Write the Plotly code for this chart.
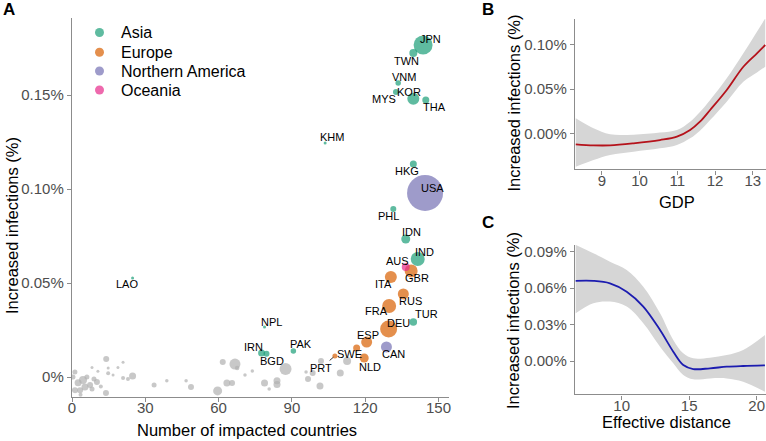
import plotly.graph_objects as go

# ---------------- Panel A data ----------------
asia_codes = ["JPN", "TWN", "VNM", "MYS", "KOR", "THA", "KHM", "HKG", "PHL", "IDN",
              "IND", "TUR", "IRN", "BGD", "PAK", "NPL", "LAO"]
asia_x = [143.7, 139.7, 133.5, 132.6, 139.7, 144.8, 103.6, 139.7, 131.5, 136.6,
          141.5, 139.7, 77.6, 79.6, 90.6, 78.8, 24.8]
asia_y = [0.1766, 0.1724, 0.1564, 0.1516, 0.1480, 0.1474, 0.1245, 0.1133, 0.0894, 0.0734,
          0.0628, 0.0293, 0.0127, 0.0123, 0.0138, 0.0266, 0.0527]
asia_pop = [19, 8, 5.5, 6, 12, 7, 3, 7, 6, 9, 14, 7.5, 7, 6, 5.5, 3, 3]

europe_codes = ["GBR", "ITA", "RUS", "FRA", "DEU", "ESP", "SWE", "PRT", "NLD"]
europe_x = [138.8, 130.5, 135.6, 129.8, 129.6, 120.6, 116.5, 107.6, 119.6]
europe_y = [0.0564, 0.0532, 0.0442, 0.0378, 0.0255, 0.0186, 0.0154, 0.0112, 0.0101]
europe_pop = [13, 12, 11, 14, 17, 11, 7, 5, 9]

namerica_codes = ["USA", "CAN"]
namerica_x = [144.5, 128.7]
namerica_y = [0.0979, 0.0160]
namerica_pop = [36, 11]

oceania_codes = ["AUS"]
oceania_x = [136.6]
oceania_y = [0.0585]
oceania_pop = [8]

other_x = [14.0, 20.9, 14.8, 18.8, 8.2, 10.6, 14.8, 16.8, 20.9, 22.9, 24.8, 33.6, 38.8, 46.7,
           48.7, 1.2, 0.4, 2.5, 4.5, 5.3, 7.4, 10.2, 1.2, 3.3, 8.2, 13.9, 6.1, 9.0, 11.8, 3.5,
           61.7, 66.7, 67.6, 59.6, 63.4, 65.5, 70.8, 73.8, 78.8, 80.7, 83.9, 83.9, 87.4, 95.8,
           96.6, 98.5, 101.5, 101.9, 109.8, 112.6]
other_y = [0.0096, 0.0078, 0.0048, 0.0050, 0.0050, 0.0030, 0.0020, 0.0010, -0.0005, -0.0010,
           0.0005, -0.0043, -0.0020, -0.0020, -0.0053, 0.0027, 0.0000, -0.0030, -0.0016, -0.0053,
           -0.0043, -0.0027, -0.0070, -0.0070, -0.0064, -0.0085, 0.0000, -0.0010, -0.0050, -0.0095,
           0.0080, 0.0069, 0.0048, -0.0074, -0.0032, -0.0032, 0.0010, 0.0032, -0.0032, -0.0064,
           -0.0020, -0.0040, 0.0043, 0.0027, -0.0010, 0.0021, -0.0048, 0.0085, 0.0021, 0.0085]
other_pop = [6, 3, 3, 3, 3, 3, 4, 3, 4, 4, 7, 5, 3.5, 3.5, 6, 5, 5, 7, 8, 7,
             6, 6, 6, 6, 5, 6, 5, 5, 4, 4, 6, 11, 4.5, 9, 7, 6, 3.5, 3.5, 7, 3.5,
             7, 7, 12, 3.5, 6, 6, 7, 6, 7, 8]

a_xticks = [0, 30, 60, 90, 120, 150]
a_yticks = [0, 0.05, 0.10, 0.15]
a_yticktext = ["0%", "0.05%", "0.10%", "0.15%"]

# ---------------- Panel B data (GDP smooth) ----------------
gdp_x = [8.31, 8.78, 9.22, 9.84, 10.54, 10.99, 11.34, 11.60, 11.87, 12.31, 12.75, 13.11, 13.33]
gdp_fit = [-0.0124, -0.0136, -0.0136, -0.0113, -0.0076, -0.0038, 0.0037, 0.0131, 0.0264,
           0.0490, 0.0753, 0.0905, 0.0999]
gdp_hi = [0.0170, 0.0057, -0.0011, -0.0015, 0.0008, 0.0037, 0.0131, 0.0240, 0.0377,
          0.0622, 0.0905, 0.1150, 0.1300]
gdp_lo = [-0.0378, -0.0302, -0.0245, -0.0208, -0.0170, -0.0132, -0.0057, 0.0030, 0.0150,
          0.0358, 0.0584, 0.0689, 0.0753]
b_xticks = [9, 10, 11, 12, 13]
b_yticks = [0, 0.05, 0.10]
b_yticktext = ["0.00%", "0.05%", "0.10%"]

# ---------------- Panel C data (effective distance smooth) ----------------
dist_x = [6.59, 7.90, 9.13, 10.37, 11.60, 12.84, 13.82, 14.56, 15.30, 16.54, 17.78, 19.00, 20.61]
dist_fit = [0.0660, 0.0660, 0.0640, 0.0571, 0.0448, 0.0255, 0.0077, -0.0033, -0.0066,
            -0.0060, -0.0047, -0.0041, -0.0036]
dist_hi = [0.0956, 0.0887, 0.0818, 0.0750, 0.0612, 0.0393, 0.0173, 0.0063, 0.0022,
           0.0027, 0.0049, 0.0091, 0.0214]
dist_lo = [0.0393, 0.0476, 0.0489, 0.0448, 0.0311, 0.0118, -0.0019, -0.0115, -0.0151,
           -0.0143, -0.0143, -0.0170, -0.0253]
c_xticks = [10, 15, 20]
c_yticks = [0, 0.03, 0.06, 0.09]
c_yticktext = ["0.00%", "0.03%", "0.06%", "0.09%"]

# ---------------- Styling ----------------
W, H = 766, 441
FONT = "Liberation Sans, Arial, sans-serif"
DARK2 = {"Asia": "#1B9E77", "Europe": "#D95F02", "Northern America": "#7570B3", "Oceania": "#E7298A"}
AXIS_COL = "#8c8c8c"
TICK_FONT = dict(family=FONT, size=15, color="#4d4d4d")

# label offsets in pixels (dx right, dy down) for ggrepel-like placement
label_offsets = {
    "JPN": (7, -6), "TWN": (-7, 8), "VNM": (6, -6), "MYS": (-12, 7), "KOR": (-4, -7),
    "THA": (9, 7), "KHM": (7, -6), "HKG": (-6, 7), "USA": (7, -5), "PHL": (-5, 7),
    "IDN": (6, -7), "IND": (7, -7), "AUS": (-8, -6), "GBR": (6, 7), "ITA": (-7, 7),
    "RUS": (7, 7), "FRA": (-13, 5), "TUR": (13, -8), "DEU": (10, -6), "ESP": (1, -7),
    "CAN": (7, 7), "SWE": (-7, 6), "NLD": (6, 9), "IRN": (-8, -6), "BGD": (6, 7),
    "PAK": (8, -7), "NPL": (7, -5), "LAO": (-6, 6),
}

fig = go.Figure()

# grey (unlabelled) countries
fig.add_trace(go.Scatter(
    x=other_x, y=other_y, mode="markers", xaxis="x", yaxis="y", showlegend=False,
    marker=dict(size=other_pop, color="#b0b0b0", opacity=0.7, line=dict(width=0)),
    hoverinfo="skip"))

groups = [
    ("Asia", asia_codes, asia_x, asia_y, asia_pop),
    ("Europe", europe_codes, europe_x, europe_y, europe_pop),
    ("Northern America", namerica_codes, namerica_x, namerica_y, namerica_pop),
    ("Oceania", oceania_codes, oceania_x, oceania_y, oceania_pop),
]
annotations = []
for name, codes, xs, ys, pops in groups:
    fig.add_trace(go.Scatter(
        x=xs, y=ys, mode="markers", name=name, text=codes, xaxis="x", yaxis="y",
        showlegend=False,
        marker=dict(size=pops, color=DARK2[name], opacity=0.7, line=dict(width=0))))
    for c, xv, yv in zip(codes, xs, ys):
        if c == "PRT":
            continue
        dx, dy = label_offsets[c]
        annotations.append(dict(
            x=xv, y=yv, xref="x", yref="y", text=c, showarrow=False,
            xanchor="center", yanchor="middle",
            xshift=dx, yshift=-dy, font=dict(family=FONT, size=11, color="black")))
# PRT with leader segment
prt_i = europe_codes.index("PRT")
annotations.append(dict(
    x=europe_x[prt_i], y=europe_y[prt_i], xref="x", yref="y", text="PRT",
    showarrow=True, arrowhead=0, arrowwidth=0.8, arrowcolor="black",
    ax=-14, ay=12, standoff=2, font=dict(family=FONT, size=11, color="black")))

# Panel B band + line
fig.add_trace(go.Scatter(x=gdp_x, y=gdp_hi, mode="lines", line=dict(width=0, shape="spline"),
                         xaxis="x2", yaxis="y2", showlegend=False, hoverinfo="skip"))
fig.add_trace(go.Scatter(x=gdp_x, y=gdp_lo, mode="lines", line=dict(width=0, shape="spline"),
                         fill="tonexty", fillcolor="#d6d6d6",
                         xaxis="x2", yaxis="y2", showlegend=False, hoverinfo="skip"))
fig.add_trace(go.Scatter(x=gdp_x, y=gdp_fit, mode="lines",
                         line=dict(width=1.8, color="#b5121b", shape="spline"),
                         xaxis="x2", yaxis="y2", showlegend=False))

# Panel C band + line
fig.add_trace(go.Scatter(x=dist_x, y=dist_hi, mode="lines", line=dict(width=0, shape="spline"),
                         xaxis="x3", yaxis="y3", showlegend=False, hoverinfo="skip"))
fig.add_trace(go.Scatter(x=dist_x, y=dist_lo, mode="lines", line=dict(width=0, shape="spline"),
                         fill="tonexty", fillcolor="#d6d6d6",
                         xaxis="x3", yaxis="y3", showlegend=False, hoverinfo="skip"))
fig.add_trace(go.Scatter(x=dist_x, y=dist_fit, mode="lines",
                         line=dict(width=1.8, color="#1c1cb0", shape="spline"),
                         xaxis="x3", yaxis="y3", showlegend=False))

axis_common = dict(showline=True, linecolor=AXIS_COL, linewidth=1.4, ticks="outside",
                   ticklen=4, tickwidth=1.2, tickcolor=AXIS_COL, tickfont=TICK_FONT,
                   showgrid=False, zeroline=False, mirror=False, automargin=False)
xaxis_extra = dict(ticklabelstandoff=-7)

def px_x(p):
    return p / W

def px_y(p):
    return 1 - p / H

fig.update_layout(
    width=W, height=H, margin=dict(l=0, r=0, t=0, b=0, autoexpand=False),
    paper_bgcolor="white", plot_bgcolor="white", showlegend=False,
    font=dict(family=FONT),
    xaxis=dict(domain=[px_x(72), px_x(449)], range=[0, 154.3], tickvals=a_xticks,
               anchor="y", **axis_common, **xaxis_extra),
    yaxis=dict(domain=[px_y(397), px_y(18)], range=[-0.01064, 0.19096], tickvals=a_yticks,
               ticktext=a_yticktext, anchor="x", **axis_common),
    xaxis2=dict(domain=[px_x(575), 1.0], range=[8.29, 13.35], tickvals=b_xticks, anchor="y2",
                **axis_common, **xaxis_extra),
    yaxis2=dict(domain=[px_y(169.3), px_y(19)], range=[-0.0407, 0.1293],
                tickvals=b_yticks, ticktext=b_yticktext, anchor="x2", **axis_common),
    xaxis3=dict(domain=[px_x(575), 1.0], range=[6.54, 20.69], tickvals=c_xticks,
                anchor="y3", **axis_common, **xaxis_extra),
    yaxis3=dict(domain=[px_y(394.3), px_y(245)], range=[-0.0274, 0.0955],
                tickvals=c_yticks, ticktext=c_yticktext, anchor="x3", **axis_common),
)

title_font = dict(family=FONT, size=16.5, color="black")


def paper_text(xp, yp, text, font, angle=0, xanchor="center"):
    return dict(x=px_x(xp), y=px_y(yp), xref="paper", yref="paper", text=text,
                textangle=angle, showarrow=False, xanchor=xanchor, yanchor="middle",
                font=font)


letter_font = dict(family=FONT, size=17, color="black")
annotations += [
    paper_text(9, 9, "<b>A</b>", letter_font),
    paper_text(488, 9, "<b>B</b>", letter_font),
    paper_text(488, 222, "<b>C</b>", letter_font),
    paper_text(12, 226, "Increased infections (%)", title_font, angle=-90),
    paper_text(247.5, 430, "Number of impacted countries", title_font),
    paper_text(513, 103.5, "Increased infections (%)", title_font, angle=-90),
    paper_text(676.7, 201.7, "GDP", title_font),
    paper_text(513, 321, "Increased infections (%)", title_font, angle=-90),
    paper_text(666.7, 421.7, "Effective distance", title_font),
]

# manual legend (keys + labels)
legend_rows = [("Asia", 32.5), ("Europe", 52.3), ("Northern America", 71.0), ("Oceania", 90.0)]
shapes = []
for name, yy in legend_rows:
    shapes.append(dict(type="circle", xref="paper", yref="paper", xsizemode="pixel",
                       ysizemode="pixel", xanchor=px_x(99.5), yanchor=px_y(yy),
                       x0=-4.5, x1=4.5, y0=-4.5, y1=4.5, fillcolor=DARK2[name],
                       opacity=0.7, line=dict(width=0)))
    annotations.append(paper_text(119, yy, name, dict(family=FONT, size=16, color="black"),
                                  xanchor="left"))

fig.update_layout(annotations=annotations, shapes=shapes)
fig.write_html("out.html", config={"displayModeBar": False},
               post_script="document.body.style.margin='0';document.body.style.padding='0';")
